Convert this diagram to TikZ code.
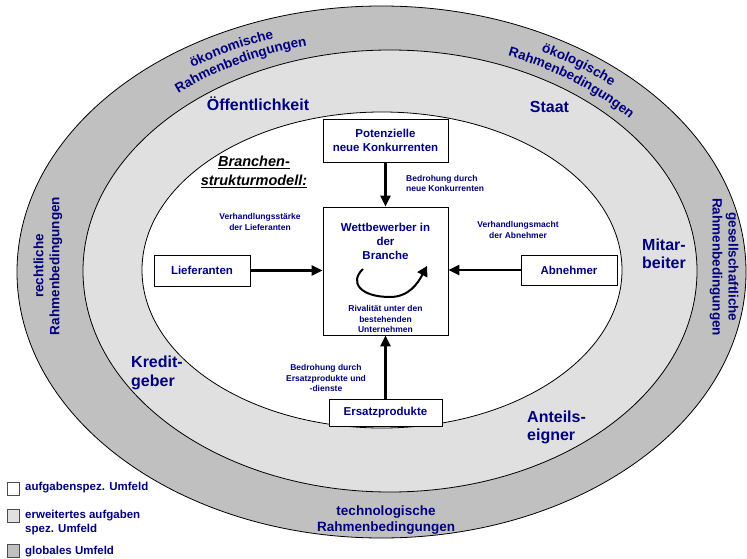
\documentclass[tikz,border=0pt]{standalone}
\usepackage{fontspec}
\setmainfont{Liberation Sans}
\usetikzlibrary{arrows.meta,decorations.text}
\definecolor{navy}{RGB}{0,0,128}
\definecolor{ringdark}{RGB}{192,192,192}
\definecolor{ringlight}{RGB}{224,224,224}
\newcommand\setfs[2]{\fontsize{#1}{#2}\selectfont}
\newcommand\ringfont{\setfs{13.5}{16}\bfseries\color{navy}}
\begin{document}
\begin{tikzpicture}[x=1pt,y=1pt,
  ringlbl/.style={text=navy,font=\bfseries\setfs{13.5}{16},align=center,inner sep=0pt},
  midlbl/.style={text=navy,font=\bfseries\setfs{16}{18.5},align=left,inner sep=0pt},
  small/.style={text=navy,font=\bfseries\setfs{8.5}{10.8},align=center,inner sep=0pt},
  box/.style={draw,line width=0.9pt,fill=white,text=navy,font=\bfseries\setfs{11.5}{14},align=center,inner sep=0pt},
  arr/.style={line width=2.4pt,-{Triangle[length=11pt,width=10pt]}},
  legbox/.style={draw=black!70,line width=0.7pt,minimum width=12pt,minimum height=13pt,inner sep=0pt},
  leglbl/.style={text=navy,font=\bfseries\setfs{11.5}{14},align=left,inner sep=0pt,anchor=west}]
\useasboundingbox (0,0) rectangle (747,-559);

% rings
\draw[fill=ringdark,line width=0.8pt] (381.5,-272) ellipse[x radius=364.5,y radius=266];
\draw[fill=ringlight,line width=0.8pt] (390,-271) ellipse[x radius=307,y radius=221];
\draw[fill=white,line width=0.8pt] (382,-270) ellipse[x radius=240,y radius=158];

% curved ring labels (top)
\path[shift={(386,-271.5)},decorate,decoration={text along path,text align=left,text={|\ringfont|ökonomische}}]
  (124.5:342 and 247) arc[start angle=124.5,end angle=64.5,x radius=342,y radius=247];
\path[shift={(386,-271.5)},decorate,decoration={text along path,text align=center,text={|\ringfont|Rahmenbedingungen}}]
  (148.5:322 and 233) arc[start angle=148.5,end angle=88.5,x radius=322,y radius=233];
\path[shift={(386,-271.5)},decorate,decoration={text along path,text align=center,text={|\ringfont|ökologische}}]
  (84:342 and 247) arc[start angle=84,end angle=24,x radius=342,y radius=247];
\path[shift={(386,-271.5)},decorate,decoration={text along path,text align=center,text={|\ringfont|Rahmenbedingungen}}]
  (82.7:322 and 233) arc[start angle=82.7,end angle=22.7,x radius=322,y radius=233];

% straight ring labels
\node[ringlbl] (tech) at (386,-520) {technologische\\Rahmenbedingungen};
\node[ringlbl,rotate=90] (recht) at (48,-266) {rechtliche\\Rahmenbedingungen};
\node[ringlbl,rotate=-90] (gesell) at (724,-267) {gesellschaftliche\\Rahmenbedingungen};

% middle ring labels
\node[midlbl,anchor=base] (oeff) at (258,-111) {Öffentlichkeit};
\node[midlbl,anchor=base] (staat) at (549.5,-112.5) {Staat};
\node[midlbl,anchor=west] (mitar) at (642,-254) {Mitar-\\beiter};
\node[midlbl,anchor=west] (kredit) at (131,-373) {Kredit-\\geber};
\node[midlbl,anchor=west] (anteil) at (527,-427.5) {Anteils-\\eigner};

% model title
\node[font=\bfseries\itshape\setfs{14.5}{19},align=center,inner sep=0pt] (title) at (254,-172)
  {\underline{Branchen-}\\\underline{strukturmodell:}};

% boxes
\node[box,minimum width=125pt,minimum height=43pt] (pot) at (385.5,-140.5) {Potenzielle\\neue Konkurrenten};
\node[box,minimum width=125pt,minimum height=128pt] (wett) at (385.5,-271) {};
\node[box,minimum width=96pt,minimum height=31pt] (lief) at (202,-270.5) {Lieferanten};
\node[box,minimum width=96pt,minimum height=30pt] (abn) at (569,-270) {Abnehmer};
\node[box,minimum width=113pt,minimum height=27pt] (ers) at (385.5,-412.5) {Ersatzprodukte};

% texts inside competitor box
\node[text=navy,font=\bfseries\setfs{11.5}{14},align=center,inner sep=0pt] (wtitle) at (385.5,-241) {Wettbewerber in\\der\\Branche};
\node[small] (rival) at (385.5,-319) {Rivalität unter den\\bestehenden\\Unternehmen};

% rotating arrow
\coordinate (rs) at (363,-269);
\coordinate (rb) at (390,-297);
\coordinate (re) at (427,-266);
\draw[line width=2pt,-{Triangle[length=10pt,width=11pt]}] (rs)
  .. controls (349,-282) and (360,-297) .. (rb)
  .. controls (409,-297) and (418,-283) .. (re);

% arrows
\draw[arr] (pot) -- (wett);
\draw[arr] (lief) -- (wett.west |- lief.east);
\draw[arr] (abn) -- (wett.east |- abn.west);
\draw[arr] (ers) -- (wett);

% arrow labels
\node[small,align=left,anchor=west] (bedr1) at (406,-183.5) {Bedrohung durch\\neue Konkurrenten};
\node[small] (verhL) at (260,-222) {Verhandlungsstärke\\der Lieferanten};
\node[small] (verhA) at (518,-230) {Verhandlungsmacht\\der Abnehmer};
\node[small] (bedr2) at (326,-378) {Bedrohung durch\\Ersatzprodukte und\\-dienste};

% legend
\node[legbox,fill=white] (lg1) at (13,-489) {};
\node[legbox,fill=ringlight] (lg2) at (13,-516) {};
\node[legbox,fill=ringdark] (lg3) at (13,-551) {};
\node[leglbl] (lt1) at (25,-488) {aufgabenspez. Umfeld};
\node[leglbl] (lt2) at (25,-523) {erweitertes aufgaben\\spez. Umfeld};
\node[leglbl] (lt3) at (25,-552) {globales Umfeld};
\end{tikzpicture}
\end{document}
